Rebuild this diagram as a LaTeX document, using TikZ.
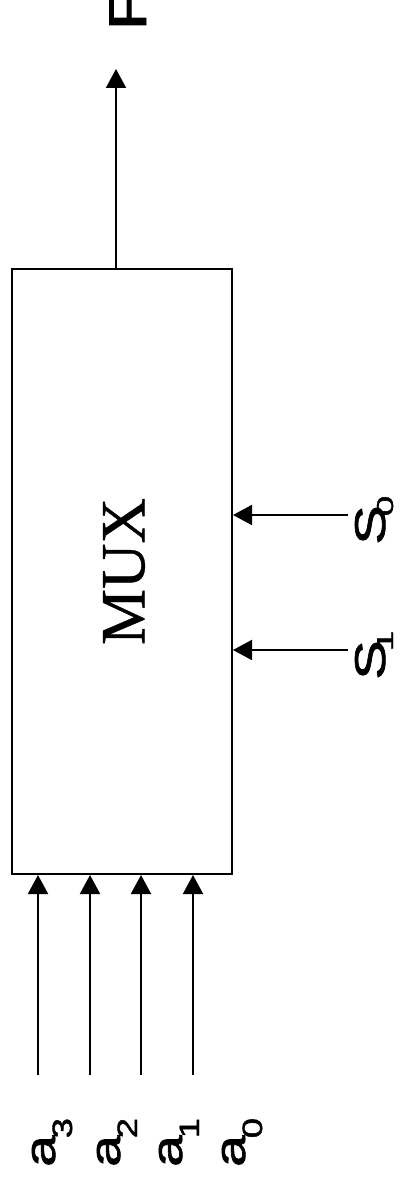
\documentclass[tikz,border=0pt]{standalone}
\usepackage{fontspec}
\setmainfont[FakeBold=0.6]{Liberation Serif}
\newfontfamily\labelfont[FakeBold=1.5]{Liberation Sans}
\usetikzlibrary{arrows.meta}
% Signal label: stretched main letter with a lowered index
\newcommand{\siglabel}[7]{%
  {\fontsize{#1}{#1}\selectfont\scalebox{#2}[1]{#3}}%
  \kern#4\raisebox{#5}{\fontsize{#6}{#6}\selectfont\scalebox{#7}[1]{\sigindex}}}
\begin{document}
\begin{tikzpicture}[x=1pt,y=-1pt,
  wire/.style={line width=2pt, -{Triangle[length=19pt,width=20pt]}},
  lbl/.style={rotate=90, anchor=base west, inner sep=0pt, font=\labelfont},
  muxbox/.style={draw, line width=2pt, minimum width=220pt, minimum height=605pt, inner sep=0pt},
]
\useasboundingbox (0,0) rectangle (401,1180);

% multiplexer block
\node[muxbox] (mux) at (122,571.5)
  {\hspace*{4pt}\rotatebox{90}{\fontsize{63}{63}\selectfont MUX}};

% connector end points
\coordinate (fout) at (116,69);
\coordinate (sel0) at (348,515);
\coordinate (sel1) at (348,650);
\coordinate (in3) at (38,1075);
\coordinate (in2) at (90,1075);
\coordinate (in1) at (141,1075);
\coordinate (in0) at (193,1075);

% output
\draw[wire] (fout |- mux.north) -- (fout);
% select lines
\draw[wire] (sel0) -- (sel0 -| mux.east);
\draw[wire] (sel1) -- (sel1 -| mux.east);
% data inputs
\foreach \i in {in3,in2,in1,in0}
  \draw[wire] (\i) -- (\i |- mux.south);

% labels
\node[lbl] (lF) at (146,31) {\fontsize{53}{53}\selectfont\scalebox{1.35}[1]{F}};

\def\sigindex{0}
\node[lbl] (lS0) at (385,545) {\siglabel{43}{1.38}{S}{-11pt}{-8pt}{23}{1.6}};
\def\sigindex{1}
\node[lbl] (lS1) at (385,680) {\siglabel{43}{1.38}{S}{-11pt}{-8pt}{23}{1.6}};

\def\sigindex{3}
\node[lbl] (la3) at (55,1167) {\siglabel{43}{1.32}{a}{-3pt}{-17pt}{28}{1.3}};
\def\sigindex{2}
\node[lbl] (la2) at (120,1167) {\siglabel{43}{1.32}{a}{-3pt}{-17pt}{28}{1.3}};
\def\sigindex{1}
\node[lbl] (la1) at (182,1167) {\siglabel{43}{1.32}{a}{-3pt}{-17pt}{28}{1.3}};
\def\sigindex{0}
\node[lbl] (la0) at (245,1167) {\siglabel{43}{1.32}{a}{-3pt}{-17pt}{28}{1.3}};
\end{tikzpicture}
\end{document}
